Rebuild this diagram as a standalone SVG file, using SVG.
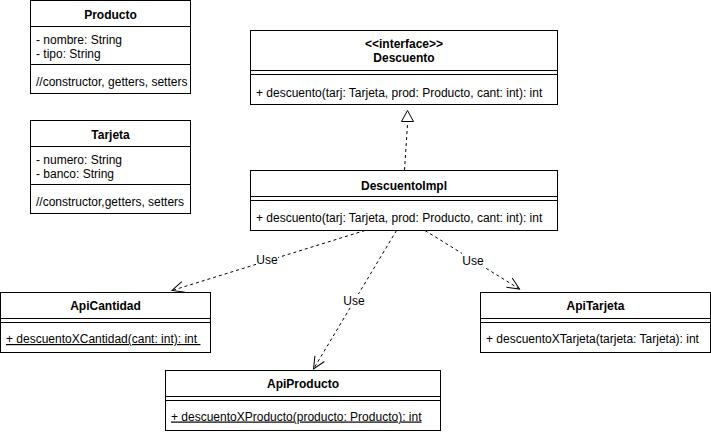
<svg xmlns="http://www.w3.org/2000/svg" width="711" height="434" viewBox="0 0 711 434">
<style>
.box{fill:#fff;stroke:#000;stroke-width:1}
.ln{stroke:#000;stroke-width:1;fill:none}
text{font-family:"Liberation Sans",Arial,Helvetica,sans-serif;font-size:12px;fill:#000}
.t{font-weight:bold;text-anchor:middle}
.c{text-anchor:middle}
.u{text-decoration:underline}
.edge{stroke:#000;stroke-width:1;fill:none;stroke-dasharray:3 3}
.lbl{fill:#fff;stroke:none}
</style>
<defs>
<marker id="open" markerUnits="userSpaceOnUse" orient="auto" overflow="visible" markerWidth="1" markerHeight="1" refX="0" refY="0">
<path d="M-12,-5.5 L0,0 L-12,5.5" fill="none" stroke="#000" stroke-width="1" stroke-dasharray="none"/>
</marker>
</defs>
<rect x="0" y="0" width="711" height="434" fill="#fff"/>

<g id="Producto">
<rect class="box" x="30.5" y="0.5" width="160" height="93"/>
<line class="ln" x1="30.5" y1="26.5" x2="190.5" y2="26.5"/>
<line class="ln" x1="30.5" y1="64.5" x2="190.5" y2="64.5"/>
<text class="t" x="110.5" y="18.5">Producto</text>
<text x="36" y="44">- nombre: String</text>
<text x="36" y="58">- tipo: String</text>
<text x="36" y="85.5">//constructor, getters, setters</text>
</g>

<g id="Tarjeta">
<rect class="box" x="30.5" y="120.5" width="160" height="93"/>
<line class="ln" x1="30.5" y1="146.5" x2="190.5" y2="146.5"/>
<line class="ln" x1="30.5" y1="184.5" x2="190.5" y2="184.5"/>
<text class="t" x="110.5" y="138.5">Tarjeta</text>
<text x="36" y="164">- numero: String</text>
<text x="36" y="178">- banco: String</text>
<text x="36" y="205.5">//constructor,getters, setters</text>
</g>

<g id="Descuento">
<rect class="box" x="250.5" y="30.5" width="307" height="74"/>
<line class="ln" x1="250.5" y1="70.5" x2="557.5" y2="70.5"/>
<line class="ln" x1="250.5" y1="74.5" x2="557.5" y2="74.5"/>
<text class="t" x="404" y="48">&lt;&lt;interface&gt;&gt;</text>
<text class="t" x="404" y="61.5">Descuento</text>
<text x="256" y="96.5">+ descuento(tarj: Tarjeta, prod: Producto, cant: int): int</text>
</g>

<g id="DescuentoImpl">
<rect class="box" x="250.5" y="170.5" width="307" height="60"/>
<line class="ln" x1="250.5" y1="196.5" x2="557.5" y2="196.5"/>
<line class="ln" x1="250.5" y1="200.5" x2="557.5" y2="200.5"/>
<text class="t" x="404" y="190">DescuentoImpl</text>
<text x="256" y="221.5">+ descuento(tarj: Tarjeta, prod: Producto, cant: int): int</text>
</g>

<g id="ApiCantidad">
<rect class="box" x="0.5" y="292.5" width="210" height="60"/>
<line class="ln" x1="0.5" y1="318.5" x2="210.5" y2="318.5"/>
<line class="ln" x1="0.5" y1="322.5" x2="210.5" y2="322.5"/>
<text class="t" x="105.5" y="310">ApiCantidad</text>
<text class="u" x="6" y="343" xml:space="preserve">+ descuentoXCantidad(cant: int): int </text>
</g>

<g id="ApiProducto">
<rect class="box" x="165.5" y="370.5" width="275" height="60"/>
<line class="ln" x1="165.5" y1="396.5" x2="440.5" y2="396.5"/>
<line class="ln" x1="165.5" y1="400.5" x2="440.5" y2="400.5"/>
<text class="t" x="303" y="388">ApiProducto</text>
<text class="u" x="171" y="420.5">+ descuentoXProducto(producto: Producto): int</text>
</g>

<g id="ApiTarjeta">
<rect class="box" x="480.5" y="292.5" width="230" height="60"/>
<line class="ln" x1="480.5" y1="318.5" x2="710.5" y2="318.5"/>
<line class="ln" x1="480.5" y1="322.5" x2="710.5" y2="322.5"/>
<text class="t" x="595.5" y="310">ApiTarjeta</text>
<text x="486" y="343">+ descuentoXTarjeta(tarjeta: Tarjeta): int</text>
</g>

<g id="connectors">
<line class="edge" x1="404.5" y1="170" x2="407.7" y2="121.5"/>
<polygon points="407.5,110.5 401.5,121.5 413.5,121.5" fill="#fff" stroke="#000" stroke-width="1"/>

<path class="edge" d="M365,230.5 L172,290.5" marker-end="url(#open)"/>
<rect class="lbl" x="256" y="253" width="22" height="14"/>
<text class="c" x="267" y="264">Use</text>

<path class="edge" d="M396.5,230.5 L313.5,369" marker-end="url(#open)"/>
<rect class="lbl" x="343" y="294" width="22" height="14"/>
<text class="c" x="354" y="305">Use</text>

<path class="edge" d="M425,230.5 L519.5,289" marker-end="url(#open)"/>
<rect class="lbl" x="462" y="253" width="22" height="14"/>
<text class="c" x="473" y="264.5">Use</text>
</g>
</svg>
